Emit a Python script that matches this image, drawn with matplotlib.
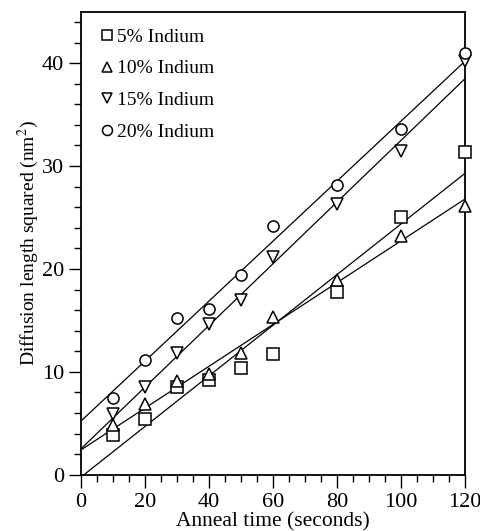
"""Diffusion length squared vs anneal time for several indium fractions."""

import matplotlib
matplotlib.use("Agg")
import matplotlib.pyplot as plt
from matplotlib.ticker import MultipleLocator

plt.rcParams["font.family"] = ["Liberation Serif", "DejaVu Serif"]
plt.rcParams["mathtext.fontset"] = "stix"

labels = ["5% Indium", "10% Indium", "15% Indium", "20% Indium"]
markers = ["s", "^", "v", "o"]

times = [10, 20, 30, 40, 50, 60, 80, 100, 120]
indium_5 = [3.9, 5.4, 8.5, 9.2, 10.4, 11.7, 17.8, 25.0, 31.4]
indium_10 = [4.8, 6.9, 9.1, 9.8, 11.8, 15.3, 18.9, 23.2, 26.1]
indium_15 = [5.9, 8.5, 11.8, 14.6, 17.0, 21.2, 26.3, 31.5, 40.2]
indium_20 = [7.5, 11.1, 15.2, 16.1, 19.4, 24.2, 28.2, 33.6, 41.0]
series = [indium_5, indium_10, indium_15, indium_20]

# fitted lines: start point and value at t=120
fit_start_t = [1.0, 0.0, 0.0, 0.0]
fit_start_v = [0.0, 2.4, 2.5, 5.2]
fit_end_v = [29.3, 26.8, 38.5, 40.2]

fig = plt.figure(figsize=(4.81, 5.31), dpi=100)
ax = fig.add_axes([0.168, 0.106, 0.799, 0.872])

for vals, mk, lab in zip(series, markers, labels):
    ax.plot(times, vals, linestyle="none", marker=mk, markersize=8,
            markerfacecolor="white", markeredgecolor="black",
            markeredgewidth=1.1, label=lab, clip_on=False, zorder=3)

for t0, v0, v1 in zip(fit_start_t, fit_start_v, fit_end_v):
    ax.plot([t0, 120], [v0, v1], color="black", linewidth=0.9, zorder=2)

ax.set_xlim(0, 120)
ax.set_ylim(0, 45)
ax.xaxis.set_major_locator(MultipleLocator(20))
ax.xaxis.set_minor_locator(MultipleLocator(5))
ax.yaxis.set_major_locator(MultipleLocator(10))
ax.yaxis.set_minor_locator(MultipleLocator(2))
ax.tick_params(which="major", direction="out", length=9, width=1.0,
               labelsize=16, top=False, right=False, pad=3)
ax.tick_params(axis="x", which="major", pad=4)
ax.tick_params(which="minor", direction="out", length=5, width=1.0,
               top=False, right=False)
for sp in ax.spines.values():
    sp.set_linewidth(1.3)

ax.set_xlabel("Anneal time (seconds)", fontsize=15.5)
ax.xaxis.set_label_coords(0.5, -0.081)
ax.set_ylabel("Diffusion length squared (nm$^2$)", fontsize=14, labelpad=1)

leg = ax.legend(loc="upper left", frameon=False, fontsize=14,
                handletextpad=0.0, handlelength=1.0, labelspacing=0.72,
                borderaxespad=0.45, markerscale=0.9)

fig.savefig("out.png", dpi=100)
